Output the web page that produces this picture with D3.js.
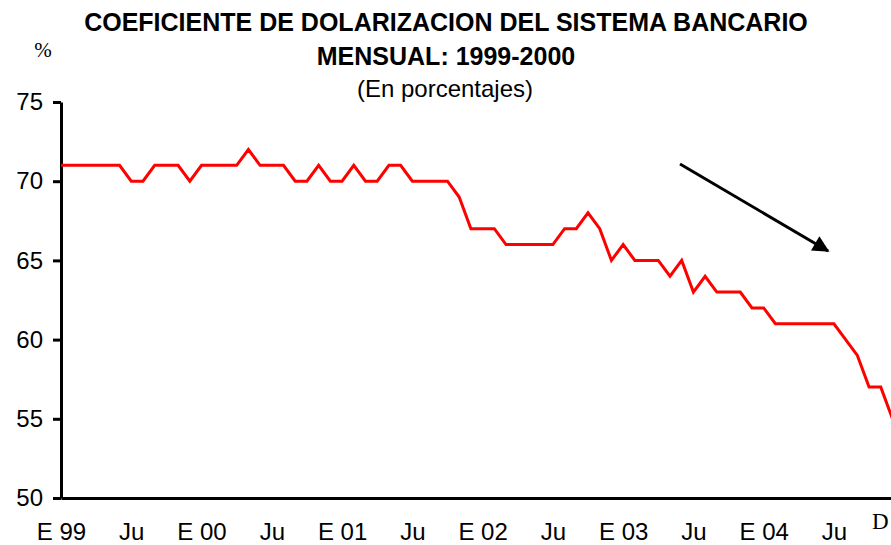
<!DOCTYPE html>
<html>
<head>
<meta charset="utf-8">
<script src="https://cdn.jsdelivr.net/npm/d3@7"></script>
<style>
  body { margin: 0; background: #fff; }
  svg { display: block; }
</style>
</head>
<body>
<div id="chart"></div>
<script>
// Coeficiente de dolarizacion, monthly, E 99 .. D 04
var titleLines = ["COEFICIENTE DE DOLARIZACION DEL SISTEMA BANCARIO", "MENSUAL: 1999-2000"];
var subtitle = "(En porcentajes)";

var monthIndex = d3.range(72);
var dolarizacion = [
  71, 71, 71, 71, 71, 71, 70, 70, 71, 71, 71, 70,
  71, 71, 71, 71, 72, 71, 71, 71, 70, 70, 71, 70,
  70, 71, 70, 70, 71, 71, 70, 70, 70, 70, 69, 67,
  67, 67, 66, 66, 66, 66, 66, 67, 67, 68, 67, 65,
  66, 65, 65, 65, 64, 65, 63, 64, 63, 63, 63, 62,
  62, 61, 61, 61, 61, 61, 61, 60, 59, 57, 57, 55
];

var tickMonths = [0, 6, 12, 18, 24, 30, 36, 42, 48, 54, 60, 66];
var tickLabels = ["E 99", "Ju", "E 00", "Ju", "E 01", "Ju", "E 02", "Ju", "E 03", "Ju", "E 04", "Ju"];
var yTicks = [50, 55, 60, 65, 70, 75];

var svgWidth = 891;
var svgHeight = 545;

var svg = d3.select("#chart")
  .append("svg")
  .attr("width", svgWidth)
  .attr("height", svgHeight);

// Scales (plot runs a bit past the right edge, like the original)
var xScale = d3.scaleLinear()
  .domain([0, 71])
  .range([61, 892.5]);

var yScale = d3.scaleLinear()
  .domain([50, 75])
  .range([498, 102]);

var font = "Arial, 'Liberation Sans', sans-serif";

// Titles
svg.append("g").selectAll("text")
  .data(titleLines)
  .enter()
  .append("text")
  .attr("x", 446)
  .attr("y", (d, i) => 31 + i * 34)
  .attr("text-anchor", "middle")
  .attr("font-family", font)
  .attr("font-weight", "bold")
  .attr("font-size", "25px")
  .text(d => d);

svg.append("text")
  .attr("x", 445)
  .attr("y", 97)
  .attr("text-anchor", "middle")
  .attr("font-family", font)
  .attr("font-size", "24px")
  .text(subtitle);

svg.append("text")
  .attr("x", 43)
  .attr("y", 57)
  .attr("text-anchor", "middle")
  .attr("font-family", "'Liberation Serif', 'Times New Roman', serif")
  .attr("font-size", "21px")
  .text("%");

// Axes
var leftAxis = d3.axisLeft(yScale)
  .tickValues(yTicks)
  .tickSize(8)
  .tickSizeOuter(0)
  .tickPadding(10)
  .tickFormat(d3.format("d"));

var bottomAxis = d3.axisBottom(xScale)
  .tickValues(tickMonths)
  .tickSize(0)
  .tickPadding(25)
  .tickFormat((d, i) => tickLabels[i]);

var yAxisG = svg.append("g")
  .attr("transform", "translate(61,0)")
  .call(leftAxis);

var xAxisG = svg.append("g")
  .attr("transform", "translate(0,498)")
  .call(bottomAxis);

[yAxisG, xAxisG].forEach(function (g) {
  g.select(".domain").attr("stroke", "#000").attr("stroke-width", 3);
  g.selectAll(".tick line").attr("stroke", "#000").attr("stroke-width", 3);
  g.selectAll(".tick text")
    .attr("fill", "#000")
    .attr("font-family", font)
    .attr("font-size", "24px");
});

svg.append("text")
  .attr("x", 872)
  .attr("y", 529)
  .attr("font-family", "'Liberation Serif', 'Times New Roman', serif")
  .attr("font-size", "23px")
  .text("D");

// Series line
var line = d3.line()
  .x((d, i) => xScale(monthIndex[i]))
  .y(d => yScale(d));

svg.append("path")
  .datum(dolarizacion)
  .attr("fill", "none")
  .attr("stroke", "#ff0000")
  .attr("stroke-width", 3)
  .attr("stroke-linejoin", "miter")
  .attr("d", line);

// Trend arrow
svg.append("defs").append("marker")
  .attr("id", "arrowhead")
  .attr("viewBox", "0 0 10 10")
  .attr("refX", 9)
  .attr("refY", 5)
  .attr("markerWidth", 6.5)
  .attr("markerHeight", 5.5)
  .attr("markerUnits", "strokeWidth")
  .attr("orient", "auto")
  .append("path")
  .attr("d", "M0,0 L10,5 L0,10 Z")
  .attr("fill", "#000");

svg.append("line")
  .attr("x1", 680)
  .attr("y1", 164)
  .attr("x2", 828)
  .attr("y2", 251)
  .attr("stroke", "#000")
  .attr("stroke-width", 3)
  .attr("marker-end", "url(#arrowhead)");
</script>
</body>
</html>
